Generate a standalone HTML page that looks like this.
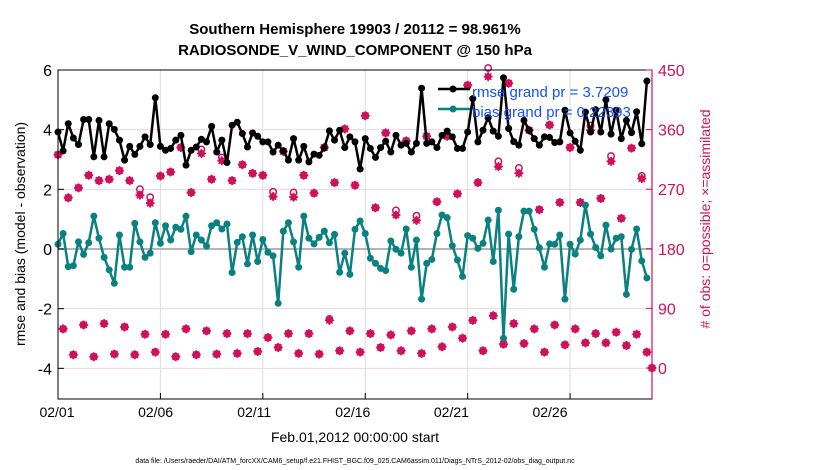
<!DOCTYPE html>
<html><head><meta charset="utf-8"><style>
body{margin:0;background:#fff;}
svg{display:block;font-family:"Liberation Sans",sans-serif;}
</style></head><body>
<svg id="chart" width="830" height="470" viewBox="0 0 830 470" xmlns="http://www.w3.org/2000/svg">
<text x="355" y="34" text-anchor="middle" font-size="15" font-weight="bold">Southern Hemisphere 19903 / 20112 = 98.961%</text>
<text x="355" y="55" text-anchor="middle" font-size="15" font-weight="bold">RADIOSONDE_V_WIND_COMPONENT @ 150 hPa</text>
<g id="grid"></g>
<g id="marks"></g>
<g id="axes"></g>
<g>
<line x1="438" y1="89" x2="470" y2="89" stroke="#000" stroke-width="2.5"/>
<circle cx="453" cy="89" r="3.5" fill="#000"/>
<line x1="438" y1="109" x2="470" y2="109" stroke="#0a8080" stroke-width="2.5"/>
<circle cx="453" cy="109" r="3.5" fill="#0a8080"/>
<text x="472" y="97" font-size="15" fill="#1450ff">rmse grand pr = 3.7209</text>
<text x="472" y="117" font-size="15" fill="#1450ff">bias grand pr = 0.22393</text>
</g>
<text transform="translate(25,234) rotate(-90)" text-anchor="middle" font-size="14">rmse and bias (model - observation)</text>
<text transform="translate(710,219) rotate(-90)" text-anchor="middle" font-size="14" fill="#d0105a"># of obs: o=possible; ×=assimilated</text>
<text x="355" y="442" text-anchor="middle" font-size="14">Feb.01,2012 00:00:00 start</text>
<text x="355" y="463" text-anchor="middle" font-size="7">data file: /Users/raeder/DAI/ATM_forcXX/CAM6_setup/f.e21.FHIST_BGC.f09_025.CAM6assim.011/Diags_NTrS_2012-02/obs_diag_output.nc</text>
</svg>
<script>
const rmse=[3.92,3.29,4.20,3.72,3.50,4.34,4.34,3.09,4.31,3.09,4.20,4.01,3.65,2.98,3.44,3.17,3.44,3.76,3.50,5.07,3.44,3.31,3.37,3.65,3.81,2.81,3.31,3.42,3.68,3.59,4.11,3.25,3.65,2.90,4.15,4.25,3.87,3.42,3.89,3.78,
3.59,3.59,3.25,3.48,3.29,2.98,3.70,2.98,3.44,2.92,3.18,3.14,3.39,3.96,3.65,3.98,3.40,3.76,3.59,2.68,3.70,3.37,3.07,3.40,3.61,3.25,3.81,3.48,3.54,3.25,3.54,5.39,3.54,3.59,3.40,3.81,3.95,3.76,3.37,3.37,
3.92,5.04,3.59,3.98,4.40,3.95,3.78,5.74,4.04,3.60,3.48,4.31,3.98,3.70,3.48,3.76,3.74,3.57,3.59,4.65,3.89,3.61,3.31,4.59,3.92,4.67,3.92,5.00,3.85,4.65,3.70,4.31,3.90,4.60,3.53,5.63];
const bias=[0.16,0.52,-0.59,-0.56,0.24,-0.18,0.21,1.10,0.36,-0.28,-0.70,-1.15,0.47,-0.61,-0.61,0.86,0.24,-0.28,-0.14,0.88,0.19,0.78,0.30,0.73,0.66,1.10,-0.09,0.47,0.30,0.10,0.78,0.88,0.67,0.84,-0.79,0.22,0.41,-0.50,0.47,-0.42,
0.32,-0.11,-0.23,-1.82,0.60,0.88,0.24,-0.61,1.10,0.36,0.17,0.39,0.60,0.21,0.49,-0.78,-0.14,-0.85,0.66,0.94,0.52,-0.31,-0.48,-0.65,-0.72,0.27,-0.01,-0.14,0.67,-0.61,0.30,-1.68,-0.48,-0.35,0.52,1.14,1.05,0.11,-0.37,-0.92,
0.45,0.36,0.02,0.19,0.97,-0.42,1.30,-2.99,0.50,-1.35,0.41,1.27,1.27,0.66,0.04,-0.61,0.17,0.16,0.47,-1.68,0.16,-0.17,0.30,1.47,0.50,0.05,-0.23,0.80,0.00,0.36,0.41,-1.52,-0.01,0.67,-0.40,-0.97];
const nAssim=[322,59,257,20,272,65,291,17,283,67,285,21,298,62,283,20,261,51,249,24,290,51,296,17,333,59,265,20,324,56,285,21,313,52,283,22,307,52,294,25,
291,46,259,31,327,52,258,22,291,52,264,21,333,72,280,26,361,56,276,24,381,52,242,31,355,50,231,26,343,56,223,22,350,59,251,32,350,62,263,45,
427,72,280,26,440,79,304,36,430,67,294,37,359,59,239,24,367,65,250,35,333,59,250,38,359,52,256,38,312,54,226,34,332,51,286,24,0];
const nPoss=[322,59,257,20,272,65,291,17,283,67,285,21,298,62,283,20,270,51,258,24,290,51,296,17,333,59,265,20,330,56,285,21,318,52,283,22,307,52,294,25,
291,46,266,31,327,52,265,22,291,52,264,21,333,74,280,26,361,56,276,24,381,52,242,31,355,50,238,26,343,56,230,22,350,59,251,32,350,62,263,45,
427,72,280,26,453,79,312,36,430,67,302,37,359,59,239,24,367,65,250,35,333,59,250,38,366,52,256,38,320,54,226,34,332,51,290,24,0];
const leftTicks=[-4,-2,0,2,4,6];
const rightTicks=[0,90,180,270,360,450];
const dayTicks=[0,5,10,15,20,25];
const dayLabels=["02/01","02/06","02/11","02/16","02/21","02/26"];

const X0=58,X1=652,Y0=399,Y1=70,NDAYS=29;
function xDay(d){return X0+(X1-X0)*d/NDAYS;}
function xLabel(d){return 57+d*19.72;}
function xIdx(i){return xDay(i/4);}
function yL(v){return 249-v*(249-70)/6;}
function yR(v){return 368-v*(368-70)/450;}
const NS="http://www.w3.org/2000/svg";
function mk(tag,attrs,parent){const e=document.createElementNS(NS,tag);for(const k in attrs)e.setAttribute(k,attrs[k]);parent.appendChild(e);return e;}
const grid=document.getElementById('grid'),marks=document.getElementById('marks'),axes=document.getElementById('axes');

leftTicks.forEach(t=>{if(t===0)return;const l=mk('line',{x1:X0,x2:X1,y1:yL(t),y2:yL(t),stroke:'#f0d4de','stroke-width':1},grid);

});
dayTicks.forEach(d=>{const l=mk('line',{x1:xDay(d),x2:xDay(d),y1:Y1,y2:Y0,stroke:'#dcdcdc','stroke-width':1},grid);

});
const zl=mk('line',{x1:X0,x2:X1,y1:yL(0),y2:yL(0),stroke:'#b4b4b4','stroke-width':2},grid);



function star(cx,cy,g){
  mk('path',{d:`M${cx-4.5},${cy} L${cx},${cy-4.5} L${cx+4.5},${cy} L${cx},${cy+4.5} Z`,fill:'#d0105a'},g);
  mk('path',{d:`M${cx-4.5},${cy}H${cx+4.5}M${cx},${cy-4.5}V${cy+4.5}M${cx-3.2},${cy-3.2}L${cx+3.2},${cy+3.2}M${cx-3.2},${cy+3.2}L${cx+3.2},${cy-3.2}`,stroke:'#d0105a','stroke-width':1.5},g);
}
nAssim.forEach((v,i)=>{
  const g=mk('g',{},marks);
  
  
  const cx=xIdx(i);
  mk('circle',{cx:cx,cy:yR(nPoss[i]),r:3.2,fill:'none',stroke:'#d0105a','stroke-width':1.5},g);
  star(cx,yR(v),g);
});

function series(vals,color,name){
  const pts=vals.map((v,i)=>xIdx(i).toFixed(1)+','+yL(v).toFixed(1)).join(' ');
  const pl=mk('polyline',{points:pts,fill:'none',stroke:color,'stroke-width':2.5,'stroke-linejoin':'round'},marks);
  
  
  vals.forEach((v,i)=>{const c=mk('circle',{cx:xIdx(i),cy:yL(v),r:3.5,fill:color},marks);
    
    });
}
series(bias,'#0a8080','bias');
series(rmse,'#000000','rmse');

mk('rect',{x:X0,y:Y1,width:X1-X0,height:Y0-Y1,fill:'none',stroke:'#000','stroke-width':1},axes);
const ra=mk('line',{x1:X1,x2:X1,y1:Y1,y2:Y0,stroke:'#d0105a','stroke-width':1.2},axes);


leftTicks.forEach(t=>{
  mk('line',{x1:X0,x2:X0+6,y1:yL(t),y2:yL(t),stroke:'#000'},axes);
  const tx=mk('text',{x:X0-6,y:yL(t)+6,'text-anchor':'end','font-size':16},axes);
  tx.textContent=t;
  
  
});
rightTicks.forEach(t=>{
  mk('line',{x1:X1-6,x2:X1,y1:yR(t),y2:yR(t),stroke:'#d0105a'},axes);
  const tx=mk('text',{x:X1+6,y:yR(t)+6,'font-size':16,fill:'#d0105a'},axes);
  tx.textContent=t;
  
  
});
dayTicks.forEach((d,k)=>{
  mk('line',{x1:xDay(d),x2:xDay(d),y1:Y0,y2:Y0-6,stroke:'#000'},axes);
  const tx=mk('text',{x:xLabel(d),y:Y0+18,'text-anchor':'middle','font-size':14},axes);
  tx.textContent=dayLabels[k];
  
  
});
</script>
</body></html>
